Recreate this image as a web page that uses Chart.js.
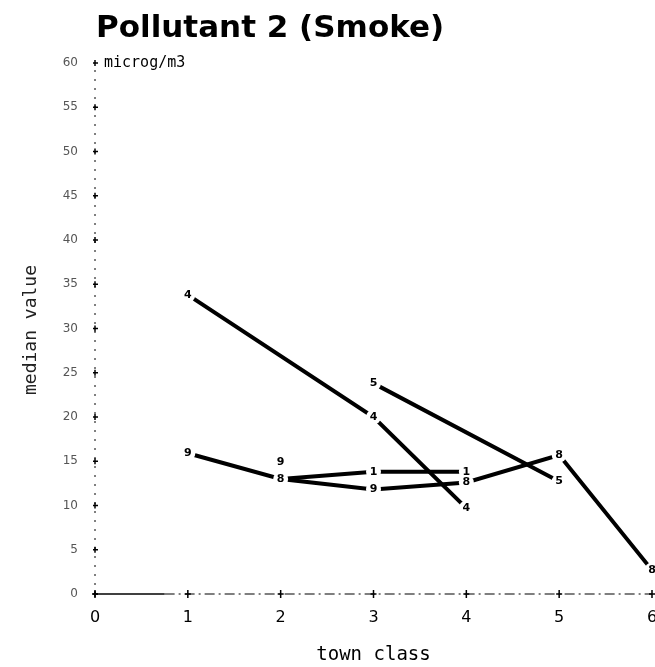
<!DOCTYPE html>
<html>
<head>
<meta charset="utf-8">
<title>Pollutant 2 (Smoke)</title>
<script src="https://cdn.jsdelivr.net/npm/chart.js@4.4.0/dist/chart.umd.min.js"></script>
<style>
  html, body { margin: 0; padding: 0; background: #ffffff; }
  #wrap { width: 655px; height: 667px; position: relative; }
</style>
</head>
<body>
<div id="wrap"><canvas id="chart"></canvas></div>
<script>
// Median smoke concentration (microg/m3) by town class, one line per group.
const townClassTicks = [0, 1, 2, 3, 4, 5, 6];
const medianTicks = [0, 5, 10, 15, 20, 25, 30, 35, 40, 45, 50, 55, 60];

const group4Class  = [1, 3, 4];
const group4Median = [33.8, 20.0, 9.7];
const group4Marks  = ['4', '4', '4'];

const group5Class  = [3, 5];
const group5Median = [23.8, 12.7];
const group5Marks  = ['5', '5'];

const group1Class  = [2, 3, 4];
const group1Median = [13.0, 13.8, 13.8];
const group1Marks  = [null, '1', '1'];

const group9Class  = [1, 2, 3, 4, 5, 6];
const group9Median = [15.9, 13.0, 11.8, 12.6, 15.7, 2.7];
const group9Marks  = ['9', '8', '9', '8', '8', '8'];

const extraClass  = [2];
const extraMedian = [14.9];
const extraMarks  = ['9'];

function pts(xs, ys) { return xs.map((x, i) => ({ x: x, y: ys[i] })); }

function lineSet(xs, ys, marks, drawLine) {
  return {
    data: pts(xs, ys),
    marks: marks,
    showLine: drawLine,
    borderColor: '#000',
    backgroundColor: '#000',
    borderWidth: 4,
    borderCapStyle: 'round',
    pointRadius: 0,
    pointHoverRadius: 0,
    tension: 0
  };
}

// Dotted axes with "+" tick crosses, drawn under the lines.
const axesPlugin = {
  id: 'plotAxes',
  beforeDatasetsDraw(chart) {
    const { ctx, scales: { x, y } } = chart;
    const x0 = x.getPixelForValue(0), x6 = x.getPixelForValue(6);
    const y0 = y.getPixelForValue(0), y60 = y.getPixelForValue(60);
    ctx.save();
    ctx.strokeStyle = '#000';
    // vertical axis: sparse dots
    ctx.lineWidth = 1;
    ctx.setLineDash([2, 7]);
    ctx.beginPath(); ctx.moveTo(x0, y0); ctx.lineTo(x0, y60); ctx.stroke();
    // horizontal axis: solid start, then dash-dot
    ctx.setLineDash([]);
    ctx.lineWidth = 1.5;
    const xs = x.getPixelForValue(0.75);
    ctx.beginPath(); ctx.moveTo(x0, y0); ctx.lineTo(xs, y0); ctx.stroke();
    ctx.setLineDash([10, 4, 2, 4]);
    ctx.lineWidth = 1.2;
    ctx.beginPath(); ctx.moveTo(xs, y0); ctx.lineTo(x6, y0); ctx.stroke();
    ctx.setLineDash([]);
    ctx.lineWidth = 1.5;
    medianTicks.forEach(v => {
      const py = y.getPixelForValue(v);
      ctx.beginPath();
      ctx.moveTo(x0 - 2, py); ctx.lineTo(x0 + 3, py);
      ctx.moveTo(x0, py - 3); ctx.lineTo(x0, py + 3);
      ctx.stroke();
    });
    townClassTicks.forEach(v => {
      const px = x.getPixelForValue(v);
      ctx.beginPath();
      ctx.moveTo(px - 3, y0); ctx.lineTo(px + 3, y0);
      ctx.moveTo(px, y0 - 4); ctx.lineTo(px, y0 + 4);
      ctx.stroke();
    });
    ctx.restore();
  }
};

// Group digits printed at each point, with a clear gap around them.
const marksPlugin = {
  id: 'pointMarks',
  afterDatasetsDraw(chart) {
    const { ctx } = chart;
    ctx.save();
    const items = [];
    chart.data.datasets.forEach((ds, di) => {
      const meta = chart.getDatasetMeta(di);
      meta.data.forEach((el, i) => {
        const m = ds.marks[i];
        if (m) items.push({ x: el.x, y: el.y, m: m });
      });
    });
    ctx.fillStyle = '#fff';
    items.forEach(it => { ctx.beginPath(); ctx.arc(it.x, it.y, 7.5, 0, Math.PI * 2); ctx.fill(); });
    ctx.fillStyle = '#000';
    ctx.font = 'bold 11px "DejaVu Sans"';
    ctx.textAlign = 'center';
    ctx.textBaseline = 'middle';
    items.forEach(it => ctx.fillText(it.m, it.x, it.y));
    ctx.restore();
  }
};

// Title, unit and axis captions.
const captionsPlugin = {
  id: 'captions',
  afterDraw(chart) {
    const { ctx, scales: { x, y } } = chart;
    ctx.save();
    ctx.fillStyle = '#000';
    ctx.textBaseline = 'alphabetic';
    ctx.textAlign = 'left';
    ctx.font = 'bold 31px "DejaVu Sans"';
    ctx.fillText('Pollutant 2 (Smoke)', 96, 37);

    ctx.font = '15px "DejaVu Sans Mono"';
    ctx.textBaseline = 'middle';
    ctx.fillText('microg/m3', 104, y.getPixelForValue(60));

    ctx.textAlign = 'center';
    ctx.font = '19px "DejaVu Sans Mono"';
    ctx.fillText('town class', (x.left + x.right) / 2, 655);

    ctx.translate(31, 330);
    ctx.rotate(-Math.PI / 2);
    ctx.font = '18px "DejaVu Sans Mono"';
    ctx.fillStyle = '#222';
    ctx.fillText('median value', 0, 0);
    ctx.restore();
  }
};

new Chart(document.getElementById('chart'), {
  type: 'scatter',
  data: {
    datasets: [
      lineSet(group4Class, group4Median, group4Marks, true),
      lineSet(group5Class, group5Median, group5Marks, true),
      lineSet(group1Class, group1Median, group1Marks, true),
      lineSet(group9Class, group9Median, group9Marks, true),
      lineSet(extraClass, extraMedian, extraMarks, false)
    ]
  },
  options: {
    responsive: true,
    maintainAspectRatio: false,
    animation: false,
    layout: { padding: { top: 63, right: 3, left: 0, bottom: 0 } },
    plugins: {
      legend: { display: false },
      tooltip: { enabled: false },
      title: { display: false }
    },
    scales: {
      x: {
        type: 'linear',
        min: 0, max: 6,
        afterBuildTicks: s => { s.ticks = townClassTicks.map(v => ({ value: v })); },
        afterFit: s => { s.height = 73; s.paddingLeft = 0; s.paddingRight = 0; },
        grid: { display: false, drawTicks: false },
        border: { display: false },
        ticks: {
          color: '#000',
          padding: 14,
          font: { family: 'DejaVu Sans', size: 16 },
          maxRotation: 0
        }
      },
      y: {
        type: 'linear',
        min: 0, max: 60,
        afterBuildTicks: s => { s.ticks = medianTicks.map(v => ({ value: v })); },
        afterFit: s => { s.width = 95; s.paddingTop = 0; s.paddingBottom = 0; },
        grid: { display: false, drawTicks: false },
        border: { display: false },
        ticks: {
          color: '#555',
          padding: 17,
          font: { family: 'DejaVu Sans', size: 12 }
        }
      }
    }
  },
  plugins: [axesPlugin, marksPlugin, captionsPlugin]
});
</script>
</body>
</html>
